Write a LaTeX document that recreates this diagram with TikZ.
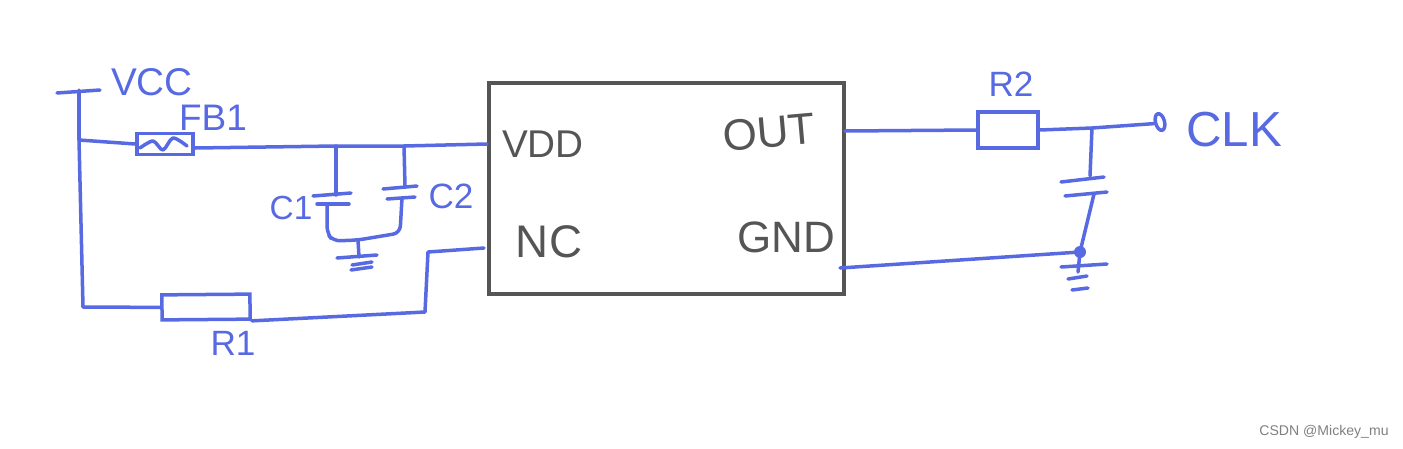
\documentclass[tikz,border=0pt]{standalone}
\usepackage{fontspec}
\setmainfont{Liberation Sans}
\usetikzlibrary{shapes.geometric}
\definecolor{penblue}{RGB}{88,106,226}
\definecolor{pengray}{RGB}{85,85,85}
\tikzset{
wire/.style={draw=penblue,line width=0.035cm,line cap=round,line join=round},
part/.style={draw=penblue,line width=0.035cm,rectangle,inner sep=0pt},
blab/.style={text=penblue,inner sep=0pt},
glab/.style={text=pengray,inner sep=0pt},
}
\begin{document}
\begin{tikzpicture}[x=0.01cm,y=-0.01cm]
\useasboundingbox (0,0) rectangle (1403,448);
\node[draw=pengray,line width=0.035cm,rectangle,minimum width=3.55cm,minimum height=2.11cm] (chip) at (666.5,188.5) {};
\node[glab,font=\fontsize{11}{11}\selectfont] (vdd) at (543,144) {VDD};
\node[glab,font=\fontsize{13}{13}\selectfont] (nc) at (549,242) {NC};
\node[glab,font=\fontsize{12.5}{13}\selectfont,rotate=5] (out) at (769,132) {OUT};
\node[glab,font=\fontsize{12.5}{13}\selectfont] (gnd) at (786,237) {GND};
% input side
\node[part,minimum width=0.56cm,minimum height=0.21cm] (fb1) at (165,144) {};
\node[part,minimum width=0.88cm,minimum height=0.25cm,rotate=0.5] (r1) at (206,307) {};
\coordinate (vcctop) at (79,90);
\coordinate (vccl) at (57,93);
\coordinate (vccr) at (100,90);
\coordinate (tee) at (79,140);
\coordinate (corner) at (83,307);
\coordinate (c1top) at (336,146);
\coordinate (c2top) at (404,146);
\coordinate (vddpin) at (487,144);
\coordinate (c1a) at (336,195);
\coordinate (c1b) at (327,204);
\coordinate (c2a) at (405,187);
\coordinate (c2b) at (402,198);
\coordinate (c1low) at (327,233);
\coordinate (gndtop) at (358,240);
\coordinate (c2low) at (400,233);
\coordinate (gndbot) at (359,257);
\coordinate (r1end) at (425,312);
\coordinate (ncup) at (428,252);
\coordinate (ncpin) at (484,248);
\draw[wire] (vccl)--(vccr);
\draw[wire] (vcctop)--(tee)--(corner)--(r1.west);
\draw[wire] (tee)--(fb1.west);
\draw[wire] ([yshift=-0.04cm]fb1.east)--(c1top)--(c2top)--(vddpin);
\draw[wire] (c1top)--(c1a);
\draw[wire] (c2top)--(c2a);
\draw[wire] (313,196)--(351,193);
\draw[wire] (317,204)--(349,204);
\draw[wire] (383,189)--(417,186);
\draw[wire] (387,199)--(415,197);
\draw[wire,rounded corners=0.07cm] (c1b)--(c1low)--(333,241)--(gndtop)--(c2low)--(c2b);
\draw[wire] (gndtop)--(gndbot);
\draw[wire] (337,258)--(377,255);
\draw[wire] (352,265)--(372,262);
\draw[wire] (351,270)--(372,267);
\draw[wire] (r1.south east)--(r1end)--(ncup)--(ncpin);
\draw[wire] plot[smooth] coordinates {(140,148) (153,141) (163,150) (173,138) (187,146)};
\node[blab,font=\fontsize{11}{11}\selectfont] (vcc) at (152,82) {VCC};
\node[blab,font=\fontsize{10.5}{11}\selectfont] (fblab) at (213,118) {FB1};
\node[blab,font=\fontsize{9.5}{10}\selectfont] (c1lab) at (291,208) {C1};
\node[blab,font=\fontsize{10}{10}\selectfont] (c2lab) at (451,196) {C2};
\node[blab,font=\fontsize{10}{10}\selectfont] (r1lab) at (233,343) {R1};
% output side
\node[part,minimum width=0.6cm,minimum height=0.36cm] (r2) at (1008,130) {};
\node[draw=penblue,line width=0.035cm,ellipse,inner sep=0pt,minimum width=0.09cm,minimum height=0.17cm,rotate=15] (clkpin) at (1160,122) {};
\coordinate (outpin) at (845,131);
\coordinate (gndpin) at (840,268);
\coordinate (tee2) at (1092,128);
\coordinate (c3a) at (1090,176);
\coordinate (c3b) at (1094,194);
\coordinate (dot) at (1080,252);
\coordinate (gnd2) at (1078,272);
\draw[wire] (outpin)--(r2.west);
\draw[wire] (r2.east)--(tee2)--(clkpin.west);
\draw[wire] (tee2)--(c3a);
\draw[wire] (c3b)--(dot)--(gnd2);
\draw[wire] (gndpin)--(dot);
\fill[penblue] (dot) circle (0.06cm);
\draw[wire] (1061,182)--(1104,177);
\draw[wire] (1065,196)--(1107,192);
\draw[wire] (1061,267)--(1107,264);
\draw[wire] (1068,279)--(1087,276);
\draw[wire] (1072,290)--(1088,288);
\node[blab,font=\fontsize{10}{10}\selectfont] (r2lab) at (1011,84) {R2};
\node[blab,font=\fontsize{14}{14}\selectfont] (clk) at (1234,130) {CLK};
\node[text=gray,inner sep=0pt,font=\fontsize{4}{5}\selectfont] (mark) at (1324,432) {CSDN @Mickey\_mu};
\end{tikzpicture}
\end{document}
